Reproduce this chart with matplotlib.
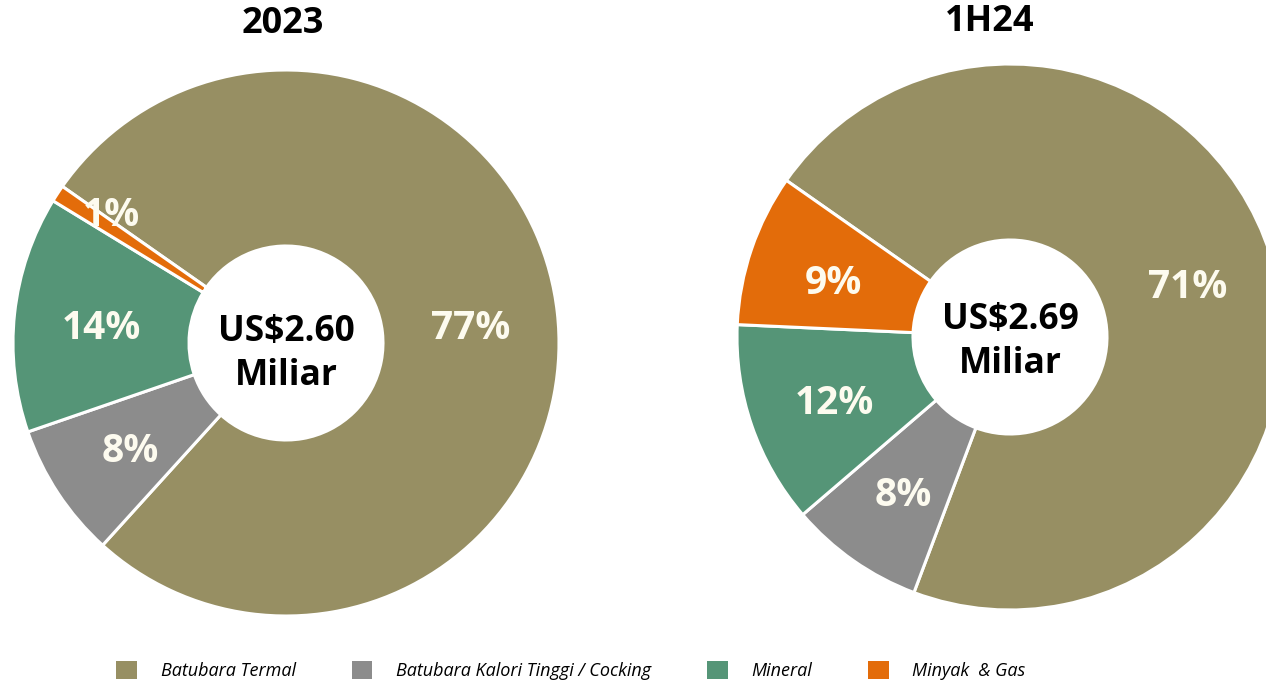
import matplotlib
matplotlib.use("Agg")
import matplotlib.pyplot as plt
from matplotlib.patches import Patch
import numpy as np

plt.rcParams['font.family'] = ['Open Sans', 'DejaVu Sans']

categories = ['Batubara Termal', 'Batubara Kalori Tinggi / Cocking', 'Mineral', 'Minyak  & Gas']
colors = ['#978F63', '#8C8C8C', '#559577', '#E36C0A']
values_2023 = [77, 8, 14, 1]
values_1h24 = [71, 8, 12, 9]
titles = ['2023', '1H24']
totals = ['US$2.60\nMiliar', 'US$2.69\nMiliar']

W, H = 1266, 683
fig = plt.figure(figsize=(W / 100, H / 100), dpi=100)
ax = fig.add_axes([0, 0, 1, 1])

R, r_in = 273, 97
centers = [(286, H - 343), (1010, H - 337)]
total_dy = [-11, -5]
title_pos = [(283, H - 24), (990, H - 22)]

for vals, c, title, tot, tp, tdy in zip([values_2023, values_1h24], centers, titles,
                                         totals, title_pos, total_dy):
    wedges, _ = ax.pie(vals, colors=colors, startangle=145, counterclock=False,
                       center=c, radius=R,
                       wedgeprops=dict(width=R - r_in, edgecolor='white', linewidth=2.2))
    for w, v in zip(wedges, vals):
        mid = (w.theta1 + w.theta2) / 2
        rl, dy = 186, -6
        if v < 3:
            # thin slice: label pushed outward and slightly off the slice
            rl, mid, dy = 216, mid - 3, 0
        mid = np.deg2rad(mid)
        ax.text(c[0] + rl * np.cos(mid), c[1] + rl * np.sin(mid) + dy, f'{v}%',
                ha='center', va='center', fontsize=28, fontweight='bold', color='#FDFBEF')
    ax.text(c[0], c[1] + tdy, tot, ha='center', va='center', fontsize=25.5,
            fontweight='bold', color='black', linespacing=1.33)
    ax.text(tp[0], tp[1], title, ha='center', va='center', fontsize=26,
            fontweight='bold', color='black')

ax.set_xlim(0, W)
ax.set_ylim(0, H)
ax.set_aspect('equal')
ax.axis('off')

handles = [Patch(facecolor=col, edgecolor='none') for col in colors]
fig.legend(handles, categories, loc='center', bbox_to_anchor=(0.451, 0.018), ncol=4,
           frameon=False, prop=dict(style='italic', size=13),
           handlelength=1.15, handleheight=1.15, handletextpad=1.3, columnspacing=3.1)

fig.savefig('out.png', dpi=100)
